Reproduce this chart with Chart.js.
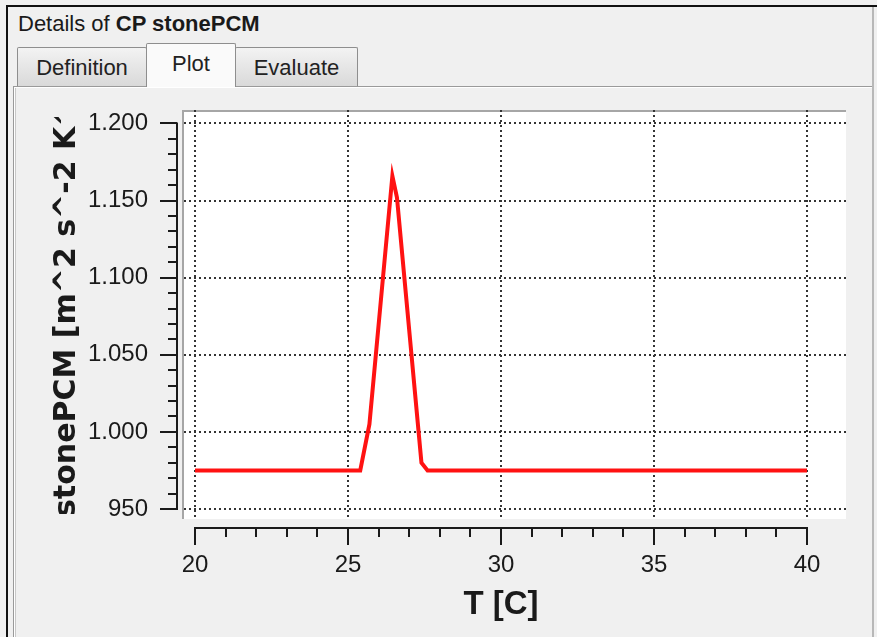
<!DOCTYPE html>
<html>
<head>
<meta charset="utf-8">
<script src="https://cdn.jsdelivr.net/npm/chart.js@4.4.1/dist/chart.umd.min.js"></script>
<style>
  html,body{margin:0;padding:0;background:#f0f0f0;width:877px;height:637px;overflow:hidden;font-family:"Liberation Sans",Arial,sans-serif;}
  .abs{position:absolute;}
  #fTop{left:6px;top:5px;width:871px;height:2px;background:#111;}
  #fLeft{left:6px;top:5px;width:2px;height:632px;background:#111;}
  #hdr{left:18px;top:11px;font-size:22px;color:#1a1a1a;white-space:nowrap;}
  #panel{left:13px;top:86px;width:859px;height:560px;border:1px solid #9a9a9a;border-bottom:none;box-shadow:inset 1px 1px 0 #fff;background:#f0f0f0;}
  #panelInner{left:15px;top:88px;width:1px;height:549px;background:#c8c8c8;}
  .tab{border:1px solid #8e8e8e;border-bottom:none;border-radius:2px 2px 0 0;font-size:22px;color:#222;text-align:center;box-sizing:border-box;}
  .off{background:linear-gradient(#f3f3f3,#e6e6e6 50%,#d9d9d9);}
  #t1{left:17px;top:47px;width:130px;height:39px;line-height:40px;}
  #t2{left:146px;top:43px;width:90px;height:44px;line-height:40px;background:#fafafa;z-index:2;}
  #t3{left:235px;top:47px;width:123px;height:39px;line-height:40px;}
  #rEdge{left:872px;top:7px;width:2px;height:630px;background:#b8b8b8;}
  #c{position:absolute;left:0;top:0;z-index:5;}
</style>
</head>
<body>
<div class="abs" id="fTop"></div>
<div class="abs" id="fLeft"></div>
<div class="abs" id="hdr">Details of <b>CP stonePCM</b></div>
<div class="abs" id="panel"></div>
<div class="abs" id="panelInner"></div>
<div class="abs" id="rEdge"></div>
<div class="abs tab off" id="t1">Definition</div>
<div class="abs tab" id="t2">Plot</div>
<div class="abs tab off" id="t3">Evaluate</div>
<canvas id="c" width="877" height="637"></canvas>
<script>
// ---- data ----
const temperatures = [20, 25.4, 25.7, 26.45, 26.6, 27.4, 27.6, 40];
const cpValues     = [975, 975, 1005, 1166, 1152, 980, 975, 975];
const xTicks = [20, 25, 30, 35, 40];
const xTickLabels = ['20', '25', '30', '35', '40'];
const yTicks = [950, 1000, 1050, 1100, 1150, 1200];
const yTickLabels = ['950', '1.000', '1.050', '1.100', '1.150', '1.200'];
const xTitle = 'T [C]';
const yTitle = 'stonePCM [m^2 s^-2 K^-1]';

const xMin = 19.64, xMax = 41.275;
const yMin = 943.5, yMax = 1208.75;

const ink = '#1a1a1a';

const decor = {
  id: 'decor',
  beforeDraw(chart) {
    const {ctx, chartArea: a} = chart;
    ctx.save();
    ctx.fillStyle = '#ffffff';
    ctx.fillRect(a.left, a.top, a.right - a.left, a.bottom - a.top);
    ctx.fillStyle = '#a6a6a6';
    ctx.fillRect(a.left - 2, a.top, a.right - a.left + 2, 2);
    ctx.fillRect(a.left - 2, a.top, 2, a.bottom - a.top);
    ctx.restore();
  },
  afterDraw(chart) {
    const {ctx} = chart;
    const xs = chart.scales.x, ys = chart.scales.y;
    ctx.save();
    ctx.strokeStyle = ink;
    ctx.lineWidth = 2;
    ctx.lineCap = 'butt';
    // x axis line + ticks
    const axY = 528;
    const x0 = xs.getPixelForValue(xTicks[0]), x1 = xs.getPixelForValue(xTicks[xTicks.length - 1]);
    ctx.beginPath();
    ctx.moveTo(x0 - 1, axY); ctx.lineTo(x1 + 1, axY);
    for (let v = xTicks[0]; v <= xTicks[xTicks.length - 1]; v += 1) {
      const p = Math.round(xs.getPixelForValue(v));
      const len = xTicks.includes(v) ? 17 : 9;
      ctx.moveTo(p, axY); ctx.lineTo(p, axY + len);
    }
    ctx.stroke();
    // y axis line + ticks
    const axX = 177;
    const y0 = ys.getPixelForValue(yTicks[0]), y1 = ys.getPixelForValue(yTicks[yTicks.length - 1]);
    ctx.beginPath();
    ctx.moveTo(axX, y0 + 1); ctx.lineTo(axX, y1 - 1);
    for (let v = yTicks[0]; v <= yTicks[yTicks.length - 1]; v += 10) {
      const p = Math.round(ys.getPixelForValue(v));
      const len = yTicks.includes(v) ? 17 : 9;
      ctx.moveTo(axX, p); ctx.lineTo(axX - len, p);
    }
    ctx.stroke();
    // x title
    ctx.fillStyle = ink;
    ctx.font = 'bold 33px "Liberation Sans", Arial, sans-serif';
    ctx.textAlign = 'center';
    ctx.textBaseline = 'middle';
    ctx.fillText(xTitle, xs.getPixelForValue(30), 605);
    // y title (clipped like the original widget)
    ctx.beginPath();
    ctx.rect(14, 117, 110, 397);
    ctx.clip();
    ctx.translate(75, 517);
    ctx.rotate(-Math.PI / 2);
    ctx.font = 'bold 30px "DejaVu Sans", sans-serif';
    ctx.textAlign = 'left';
    ctx.textBaseline = 'alphabetic';
    ctx.fillText(yTitle, 0, 0);
    ctx.restore();
  }
};

new Chart(document.getElementById('c'), {
  type: 'line',
  data: {
    datasets: [{
      data: temperatures.map((t, i) => ({x: t, y: cpValues[i]})),
      borderColor: '#ff1212',
      borderWidth: 4,
      pointRadius: 0,
      tension: 0,
      fill: false
    }]
  },
  options: {
    responsive: false,
    animation: false,
    devicePixelRatio: 1,
    layout: {padding: {left: 14, top: 110, right: 31, bottom: 0}},
    plugins: {legend: {display: false}, tooltip: {enabled: false}},
    scales: {
      x: {
        type: 'linear', min: xMin, max: xMax,
        afterFit: s => { s.height = 118; },
        afterBuildTicks: s => { s.ticks = xTicks.map(v => ({value: v})); },
        grid: {color: '#333', lineWidth: 2, drawTicks: false},
        border: {display: false, dash: [2, 3]},
        ticks: {
          autoSkip: false, maxRotation: 0, padding: 32,
          color: ink, font: {family: '"Liberation Sans", Arial, sans-serif', size: 24},
          callback: (v) => { const i = xTicks.indexOf(v); return i >= 0 ? xTickLabels[i] : ''; }
        }
      },
      y: {
        type: 'linear', min: yMin, max: yMax,
        afterFit: s => { s.width = 170; },
        afterBuildTicks: s => { s.ticks = yTicks.map(v => ({value: v})); },
        grid: {color: '#333', lineWidth: 2, drawTicks: false},
        border: {display: false, dash: [2, 3]},
        ticks: {
          autoSkip: false, padding: 36,
          color: ink, font: {family: '"Liberation Sans", Arial, sans-serif', size: 24},
          callback: (v) => { const i = yTicks.indexOf(v); return i >= 0 ? yTickLabels[i] : ''; }
        }
      }
    }
  },
  plugins: [decor]
});
</script>
</body>
</html>
